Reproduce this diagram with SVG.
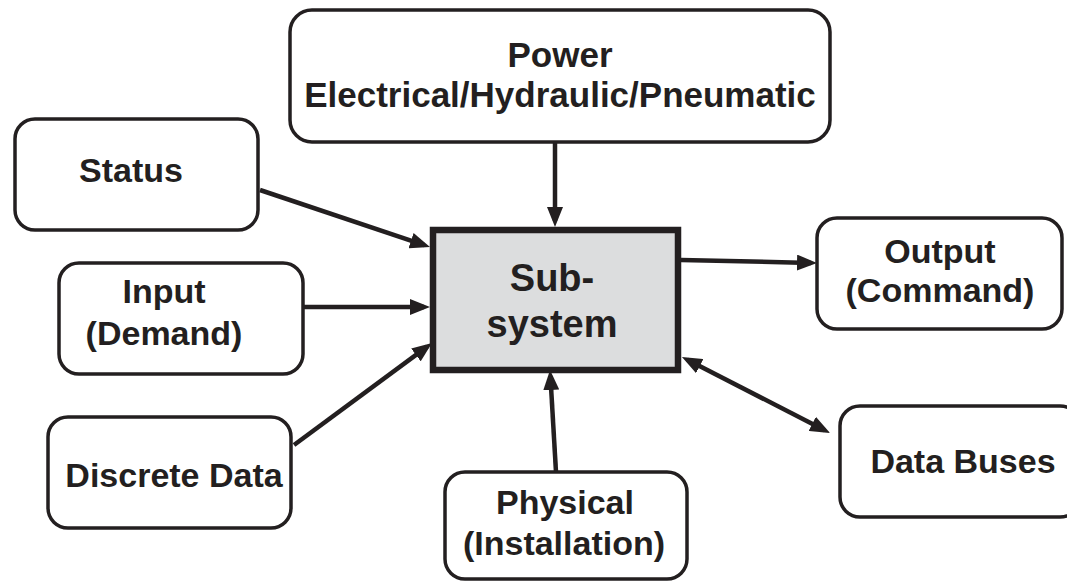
<svg xmlns="http://www.w3.org/2000/svg" width="1067" height="581" viewBox="0 0 1067 581">
<style>
.box{fill:#fff;stroke:#231f20;stroke-width:3.5}
.sub{fill:#dcddde;stroke:#231f20;stroke-width:6.5}
.t{font-family:"Liberation Sans",Arial,Helvetica,sans-serif;font-weight:bold;font-size:34px;fill:#231f20;text-anchor:middle}
.c{fill:none;stroke:#231f20;stroke-width:4.5}
</style>
<defs>
<marker id="ah" viewBox="0 0 20 16" refX="14" refY="8" markerWidth="20" markerHeight="16" orient="auto-start-reverse" markerUnits="userSpaceOnUse">
<path d="M0,0 L20,8 L0,16 z" fill="#231f20"/>
</marker>
</defs>
<rect width="1067" height="581" fill="#fff"/>
<g id="connectors">
<line class="c" x1="555" y1="142" x2="555" y2="221" marker-end="url(#ah)"/>
<line class="c" x1="260" y1="190" x2="424.3" y2="245.1" marker-end="url(#ah)"/>
<line class="c" x1="303" y1="307" x2="424" y2="307" marker-end="url(#ah)"/>
<line class="c" x1="294" y1="445" x2="427.2" y2="346.6" marker-end="url(#ah)"/>
<line class="c" x1="556" y1="472" x2="550.4" y2="376" marker-end="url(#ah)"/>
<line class="c" x1="681" y1="260" x2="811" y2="262.9" marker-end="url(#ah)"/>
<line class="c" x1="687.3" y1="359.7" x2="824.7" y2="430.3" marker-start="url(#ah)" marker-end="url(#ah)"/>
</g>
<g id="power">
<rect class="box" x="290" y="10" width="540" height="132" rx="22"/>
<text class="t" x="560" y="67" style="font-size:35px">Power</text>
<text class="t" x="560" y="107" style="font-size:35px">Electrical/Hydraulic/Pneumatic</text>
</g>
<g id="status">
<rect class="box" x="15" y="119" width="243" height="111" rx="20"/>
<text class="t" x="131" y="182">Status</text>
</g>
<g id="input">
<rect class="box" x="59" y="263" width="244" height="111" rx="20"/>
<text class="t" x="164" y="303">Input</text>
<text class="t" x="164" y="345">(Demand)</text>
</g>
<g id="discrete">
<rect class="box" x="48" y="417" width="243" height="111" rx="20"/>
<text class="t" x="174" y="487">Discrete Data</text>
</g>
<g id="subsystem">
<rect class="sub" x="433" y="230" width="245" height="140"/>
<text class="t" x="552" y="291" style="font-size:38px">Sub-</text>
<text class="t" x="552" y="337" style="font-size:38px">system</text>
</g>
<g id="output">
<rect class="box" x="817" y="218" width="245" height="111" rx="20"/>
<text class="t" x="940" y="263">Output</text>
<text class="t" x="940" y="302">(Command)</text>
</g>
<g id="databuses">
<rect class="box" x="840" y="406" width="240" height="111" rx="20"/>
<text class="t" x="963" y="473">Data Buses</text>
</g>
<g id="physical">
<rect class="box" x="445" y="472" width="242" height="107" rx="20"/>
<text class="t" x="565" y="514">Physical</text>
<text class="t" x="564" y="555">(Installation)</text>
</g>
</svg>
